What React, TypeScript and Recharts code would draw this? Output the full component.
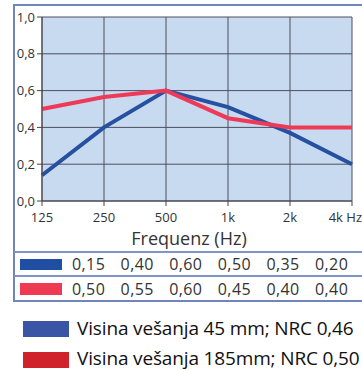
import { LineChart, Line, XAxis, YAxis, CartesianGrid } from 'recharts';

// octave bands
const freqLabels = ['125', '250', '500', '1k', '2k', '4k Hz'];
// curves as drawn in the plot
const blueCurve = [0.14, 0.4, 0.6, 0.51, 0.37, 0.2];
const redCurve = [0.5, 0.565, 0.6, 0.45, 0.4, 0.4];
// values printed in the table under the plot
const blueTable = ['0,15', '0,40', '0,60', '0,50', '0,35', '0,20'];
const redTable = ['0,50', '0,55', '0,60', '0,45', '0,40', '0,40'];
const yTicks = [0, 0.2, 0.4, 0.6, 0.8, 1];
const legendItems = [
  { label: 'Visina vešanja 45 mm; NRC 0,46', color: '#3a55a5' },
  { label: 'Visina vešanja 185mm; NRC 0,50', color: '#d0222b' },
];

const BLUE = '#2650a0';
const RED = '#ee3a57';
const FONT = '"Open Sans", sans-serif';

const chartData = freqLabels.map((f, i) => ({
  i,
  f,
  blue: blueCurve[i],
  red: redCurve[i],
}));

function XTick(props: any) {
  const { x, y, payload, index } = props;
  const last = index === freqLabels.length - 1;
  return (
    <text
      x={last ? x + 10 : x}
      y={y}
      dy="0.71em"
      textAnchor={last ? 'end' : 'middle'}
      fill="#333"
      fontSize={13}
      fontFamily={FONT}
    >
      {freqLabels[payload.value]}
    </text>
  );
}

function TableRow({ values, color, top, swatchH }: { values: string[]; color: string; top: number; swatchH: number }) {
  return (
    <>
      <div style={{ position: 'absolute', left: 20, top: top - swatchH / 2, width: 42, height: swatchH, background: color }} />
      {values.map((v, i) => (
        <div
          key={i}
          style={{
            position: 'absolute',
            left: 72 + i * 48.6,
            top: top - 12,
            height: 24,
            lineHeight: '24px',
            fontSize: 16,
            letterSpacing: 0.4,
            color: '#333',
            whiteSpace: 'nowrap',
          }}
        >
          {v}
        </div>
      ))}
    </>
  );
}

export default function App() {
  return (
    <div
      style={{
        position: 'absolute',
        left: 0,
        top: 0,
        width: 362,
        height: 370,
        background: '#fff',
        overflow: 'hidden',
        fontFamily: FONT,
      }}
    >
      <div
        style={{
          position: 'absolute',
          left: 13,
          top: 4,
          width: 360,
          height: 298,
          boxSizing: 'border-box',
          border: '2px solid #7086bb',
        }}
      />
      <div style={{ position: 'absolute', left: 0, top: 0 }}>
        <LineChart width={362} height={370} data={chartData} margin={{ top: 17, right: 10, left: 0, bottom: 0 }}>
          <CartesianGrid fill="#c8daf0" fillOpacity={1} stroke="#4d4f5e" strokeWidth={1} />
          <XAxis
            dataKey="i"
            type="number"
            domain={[0, 5]}
            ticks={[0, 1, 2, 3, 4, 5]}
            height={169}
            tickSize={5}
            tickMargin={7}
            stroke="#444"
            tick={<XTick />}
            interval={0}
            label={{
              value: 'Frequenz (Hz)',
              position: 'insideTop',
              offset: 31,
              dx: -8,
              fill: '#333',
              fontSize: 18,
              fontFamily: FONT,
            }}
          />
          <YAxis
            type="number"
            domain={[0, 1]}
            ticks={yTicks}
            width={42}
            tickSize={5}
            stroke="#444"
            tick={{ fill: '#333', fontSize: 13, fontFamily: FONT }}
            tickFormatter={(v: number) => v.toFixed(1).replace('.', ',')}
            interval={0}
          />
          <Line type="linear" dataKey="blue" stroke={BLUE} strokeWidth={4} dot={false} isAnimationActive={false} />
          <Line type="linear" dataKey="red" stroke={RED} strokeWidth={4} dot={false} isAnimationActive={false} />
        </LineChart>
      </div>

      <div style={{ position: 'absolute', left: 14, top: 251, width: 350, height: 2, background: '#7f95c6' }} />
      <div style={{ position: 'absolute', left: 14, top: 275, width: 350, height: 2, background: '#7f95c6' }} />
      <TableRow values={blueTable} color="#1f4fa3" top={264} swatchH={11} />
      <TableRow values={redTable} color="#ee3a52" top={289} swatchH={12} />

      {legendItems.map((item, i) => (
        <div key={item.label}>
          <div
            style={{
              position: 'absolute',
              left: 23,
              top: 321 + i * 31,
              width: 46,
              height: 16,
              background: item.color,
            }}
          />
          <div
            style={{
              position: 'absolute',
              left: 77,
              top: 328 + i * 30 - 14,
              height: 28,
              lineHeight: '28px',
              fontSize: 19,
              letterSpacing: -0.15,
              color: '#111',
              whiteSpace: 'nowrap',
            }}
          >
            {item.label}
          </div>
        </div>
      ))}
    </div>
  );
}
